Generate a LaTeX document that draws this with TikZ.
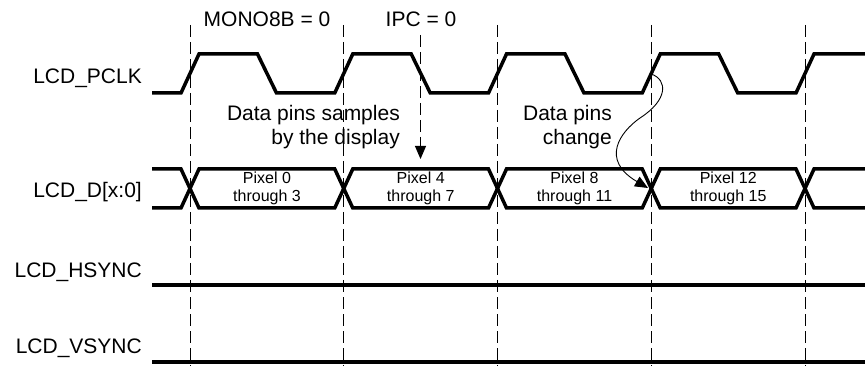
\documentclass[tikz,border=0pt]{standalone}
\usepackage{fontspec}
\setmainfont{Liberation Sans}
\usetikzlibrary{arrows.meta}

\begin{document}
\begin{tikzpicture}[x=1pt,y=-1pt,
    wave/.style={line width=3.5pt,line join=miter},
    grid/.style={line width=0.9pt,dash pattern=on 12pt off 5pt},
    sig/.style={anchor=base east,inner sep=0pt,font=\fontsize{21}{24}\selectfont},
    note/.style={align=right,inner sep=0pt,font=\fontsize{21}{24.5}\selectfont},
    pix/.style={align=center,inner sep=0pt,font=\fontsize{16}{18.4}\selectfont},
    tip/.style={-{Triangle[length=13pt,width=11pt]}}]
    \useasboundingbox (0,0) rectangle (865,366);
    % signal names
    \node[sig] (pclk) at (142,84) {LCD\_PCLK};
    \node[sig] (data) at (142,198) {LCD\_D[x:0]};
    \node[sig] (hsync) at (142,277) {LCD\_HSYNC};
    \node[sig] (vsync) at (142,353) {LCD\_VSYNC};
    \node[sig,anchor=base] (mono) at (267,27) {MONO8B = 0};
    \node[sig,anchor=base] (ipc) at (421,27) {IPC = 0};
    % edges
    \foreach \d in {190,343.75,497.5,651.25,805}
        \draw[grid] (\d,25) -- (\d,366);
    % clock
    \draw[wave] (152,93) \foreach \d in {190,343.75,497.5,651.25} { -- (\d-9,93) -- (\d+9,54) -- (\d+67.5,54) -- (\d+86.5,93) } -- (796,93) -- (814,54) -- (865,54);
    % data bus
    \draw[wave] (152,169) \foreach \d/\a/\b in {190/169/208,343.75/208/169,497.5/169/208,651.25/208/169,805/169/208} { -- (\d-9,\a) -- (\d+9,\b) } -- (865,208);
    \draw[wave] (152,208) \foreach \d/\a/\b in {190/208/169,343.75/169/208,497.5/208/169,651.25/169/208,805/208/169} { -- (\d-9,\a) -- (\d+9,\b) } -- (865,169);
    \foreach \d/\a/\b [count=\i] in {190/0/3,343.75/4/7,497.5/8/11,651.25/12/15}
        \node[pix] (pix\i) at (\d+77,188.5) {Pixel \a\\through \b};
    % sync lines
    \draw[wave] (152,285) -- (865,285);
    \draw[wave] (152,362) -- (865,362);
    % notes
    \node[note,anchor=base east] (sample) at (400,145) {Data pins samples\\by the display};
    \node[note,anchor=base east] (change) at (612,145) {Data pins\\change};
    \coordinate (ipctop) at (420.5,35);
    \coordinate (ipcend) at (420.5,159);
    \draw[grid,tip] (ipctop) -- (ipcend);
    \coordinate (rise) at (651.25,74);
    \coordinate (cross) at (648,188);
    \draw[line width=0.9pt,tip] (rise) .. controls (668,80) and (668,100) .. (640,118) .. controls (620,132) and (600,160) .. (cross);
\end{tikzpicture}
\end{document}
